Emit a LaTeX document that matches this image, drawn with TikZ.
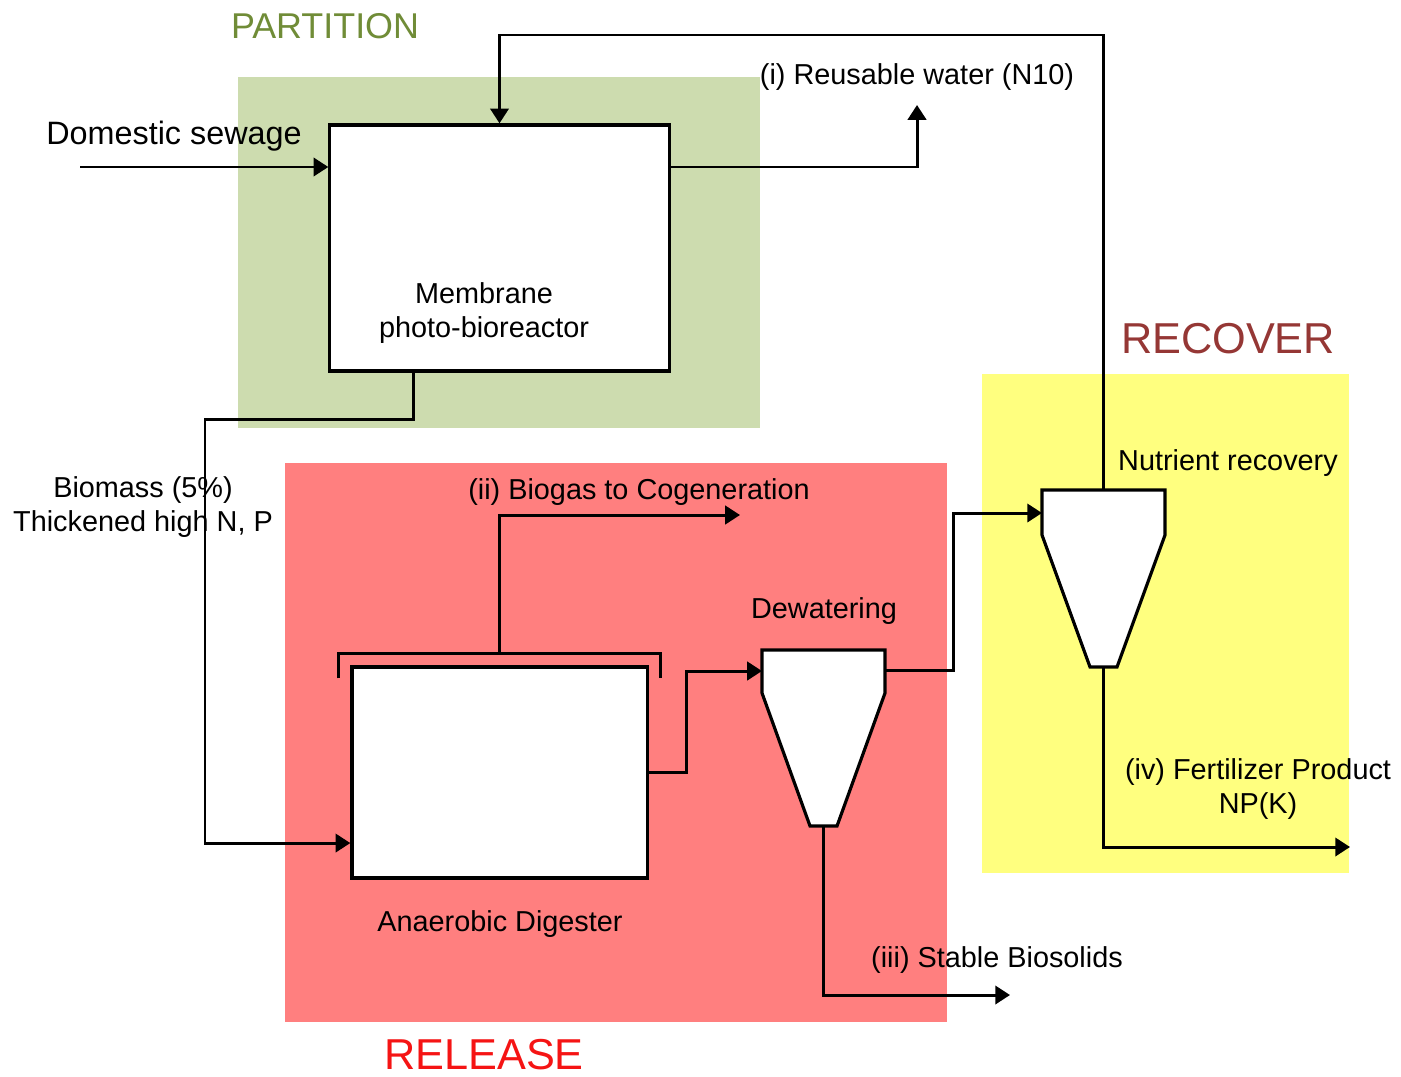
\documentclass[tikz,border=0pt]{standalone}
\usepackage{fontspec}
\setmainfont{Liberation Sans}
\usetikzlibrary{arrows.meta}
\definecolor{partitiongreen}{RGB}{205,220,175}
\definecolor{releasered}{RGB}{255,127,127}
\definecolor{recoveryellow}{RGB}{255,255,127}
\definecolor{partitiontext}{RGB}{112,140,55}
\definecolor{recovertext}{RGB}{149,55,53}
\definecolor{releasetext}{RGB}{245,20,20}
\tikzset{
  unit/.style={draw,line width=0.9pt,fill=white},
  flow/.style={line width=0.85pt,-{Triangle[length=4.2pt,width=5.2pt]}},
  pipe/.style={line width=0.85pt},
  lbl/.style={font=\fontsize{8.2}{9.7}\selectfont,align=center,inner sep=0pt,yshift=-0.03cm},
  zone/.style={font=\fontsize{12.3}{14}\selectfont,inner sep=0pt}
}

\begin{document}
\begin{tikzpicture}[x=0.01cm,y=-0.01cm]
    \useasboundingbox (0,0) rectangle (1401,1076);
    % Zones
    \fill[partitiongreen] (238,77) rectangle (760,428);
    \fill[releasered] (285,463) rectangle (947,1022);
    \fill[recoveryellow] (982,374) rectangle (1349,873);
    % Units
    \node[unit,minimum width=3.39cm,minimum height=2.46cm] (mpbr) at (499.5,248) {};
    \node[unit,minimum width=2.95cm,minimum height=2.11cm] (ad) at (499.5,772.5) {};
    \draw[unit] (762,650) -- (885,650) -- (885,693) -- (837,826) -- (810,826) -- (762,693) -- cycle;
    \draw[unit] (1042,490) -- (1165,490) -- (1165,535) -- (1117,667) -- (1090,667) -- (1042,535) -- cycle;
    \draw[pipe] ([shift={(-12,13)}]ad.north west) |- ([shift={(12,-12)}]ad.north east) -- ([shift={(12,13)}]ad.north east);
    % Ports
    \coordinate (dwin) at (762,671);
    \coordinate (dwout) at (885,670);
    \coordinate (dwbot) at (823.5,826);
    \coordinate (nrin) at (1042,513);
    \coordinate (nrtop) at (1103.5,490);
    \coordinate (nrbot) at (1103.5,667);
    \coordinate (sewin) at (80,167);
    \coordinate (loop) at (0,35);
    \coordinate (water) at (917,105);
    \coordinate (gasout) at (740,515);
    \coordinate (solids) at (1010,995);
    \coordinate (fert) at (1350,847);
    % Streams
    \draw[flow] (sewin) -- (sewin -| mpbr.west);
    \draw[flow] (mpbr.east |- sewin) -| (water);
    \draw[flow] (nrtop) -- (nrtop |- loop) -| (mpbr.north);
    \draw[flow] ([xshift=-0.855cm]mpbr.south) -- ++(0,47) -| (205,600) |- ([yshift=-0.705cm]ad.west);
    \draw[flow] ([yshift=0.12cm]ad.north) |- (gasout);
    \draw[flow] (ad.east) -- ++(38,0) |- (dwin);
    \draw[flow] (dwout) -- ++(68,0) |- (nrin);
    \draw[flow] (dwbot) |- (solids);
    \draw[flow] (nrbot) |- (fert);
    % Labels
    \node[zone,text=partitiontext,font=\fontsize{10.2}{12}\selectfont] (partition) at (325,26) {PARTITION};
    \node[zone,text=recovertext] (recover) at (1228,339) {RECOVER};
    \node[zone,text=releasetext] (release) at (484,1055) {RELEASE};
    \node[lbl,font=\fontsize{9.2}{11}\selectfont] (sewage) at (174,133) {Domestic sewage};
    \node[lbl] (waterlbl) at (917,74) {(i) Reusable water (N10)};
    \node[lbl] (mpbrlbl) at (484,310) {Membrane\\photo-bioreactor};
    \node[lbl] (biolbl) at (143,504) {Biomass (5\%)\\Thickened high N, P};
    \node[lbl] (gaslbl) at (639,489) {(ii) Biogas to Cogeneration};
    \node[lbl] (dwlbl) at (824,608) {Dewatering};
    \node[lbl] (adlbl) at (500,921) {Anaerobic Digester};
    \node[lbl] (solidslbl) at (997,957) {(iii) Stable Biosolids};
    \node[lbl] (nrlbl) at (1228,460) {Nutrient recovery};
    \node[lbl] (fertlbl) at (1258,786) {(iv) Fertilizer Product\\NP(K)};
\end{tikzpicture}
\end{document}
